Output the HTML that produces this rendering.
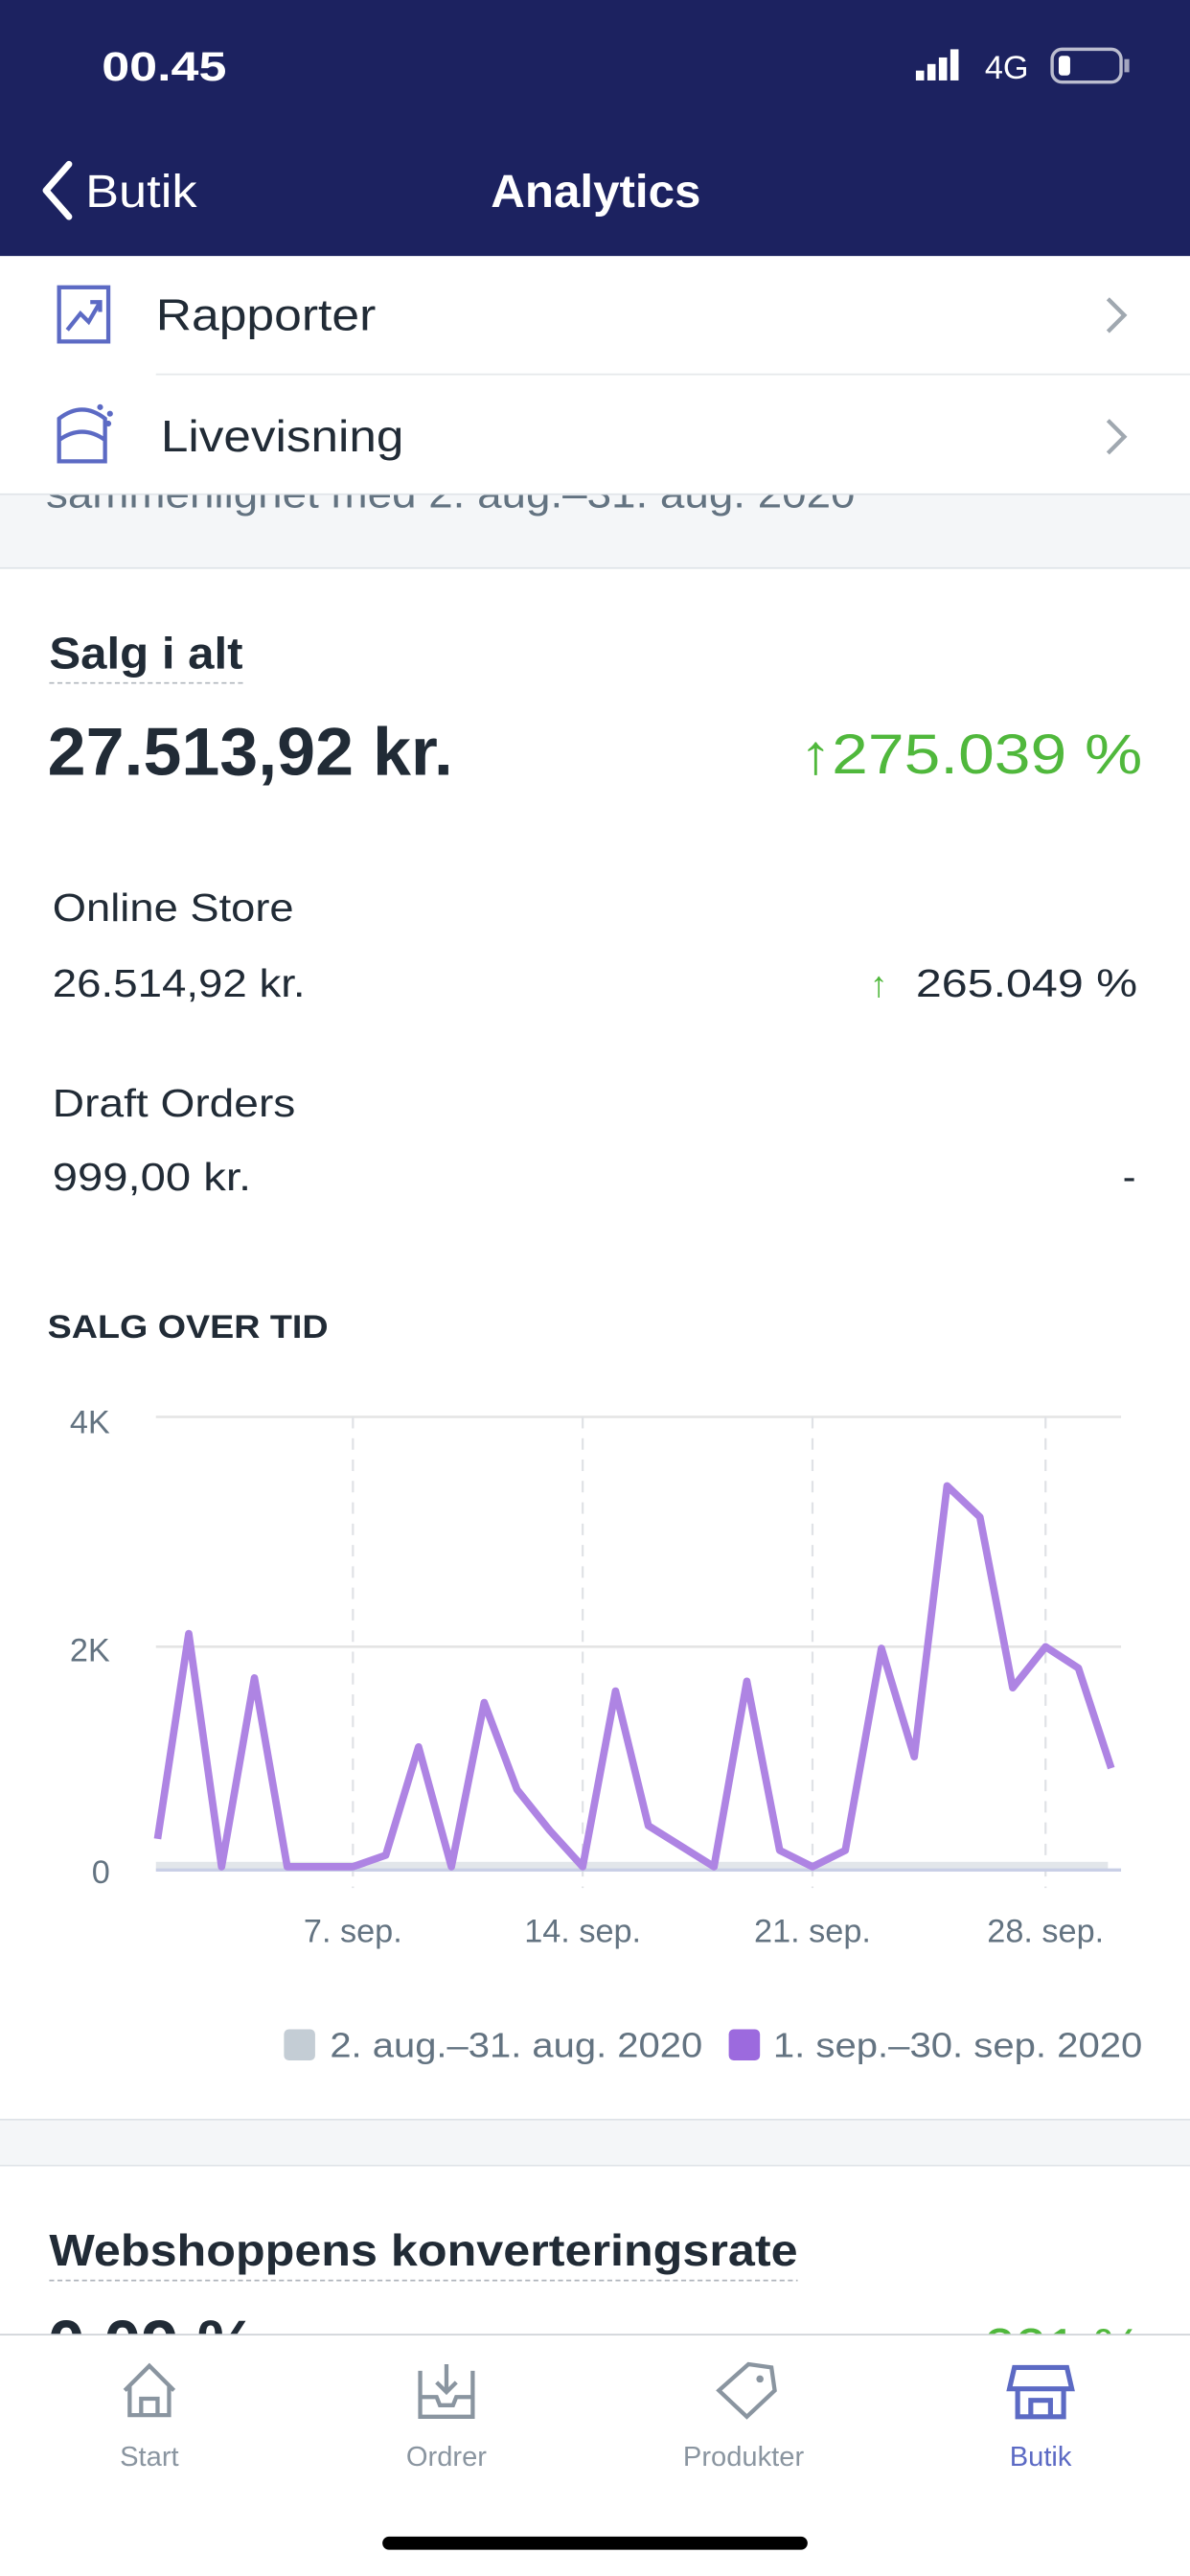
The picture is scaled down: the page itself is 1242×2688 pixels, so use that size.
<!DOCTYPE html>
<html><head><meta charset="utf-8"><style>
html,body{margin:0;padding:0;background:#fff;}
svg{display:block;font-family:"Liberation Sans",sans-serif;}
</style></head><body>
<svg width="1242" height="2688" viewBox="0 0 725 1569" preserveAspectRatio="none" xmlns="http://www.w3.org/2000/svg">
<rect x="0" y="0" width="725" height="1569" fill="#fff"/>
<rect x="0" y="0" width="725" height="156" fill="#1c2260"/>
<text x="62" y="49" fill="#fff" font-size="25" font-weight="bold" textLength="76" lengthAdjust="spacingAndGlyphs">00.45</text>
<rect x="558" y="43" width="5" height="6" fill="#fff"/><rect x="565" y="39" width="5" height="10" fill="#fff"/><rect x="572" y="35" width="5" height="14" fill="#fff"/><rect x="579" y="30" width="5" height="19" fill="#fff"/>
<text x="600" y="48" fill="#fff" font-size="20">4G</text>
<rect x="641" y="30" width="42" height="20" rx="6" fill="none" stroke="#fff" stroke-opacity="0.7" stroke-width="2"/>
<rect x="645" y="34" width="7" height="12" rx="2" fill="#fff"/>
<rect x="685" y="36" width="3" height="8" fill="#fff" fill-opacity="0.6"/>
<path d="M42 100 L28 116 L42 132" fill="none" stroke="#fff" stroke-width="4" stroke-linecap="round" stroke-linejoin="round"/>
<text x="52" y="126" fill="#fff" font-size="28" textLength="68" lengthAdjust="spacingAndGlyphs">Butik</text>
<text x="299" y="126" fill="#fff" font-size="28" font-weight="bold" textLength="128" lengthAdjust="spacingAndGlyphs">Analytics</text>
<rect x="0" y="301" width="725" height="45" fill="#f4f6f8"/>
<text x="28" y="309" fill="#637381" font-size="25" textLength="493" lengthAdjust="spacingAndGlyphs">sammenlignet med 2. aug.–31. aug. 2020</text>
<rect x="0" y="156" width="725" height="145" fill="#fff"/>
<text x="95" y="201" fill="#212b36" font-size="27" textLength="134" lengthAdjust="spacingAndGlyphs">Rapporter</text>
<text x="98" y="275" fill="#212b36" font-size="27" textLength="148" lengthAdjust="spacingAndGlyphs">Livevisning</text>
<rect x="36" y="175" width="30" height="33" fill="none" stroke="#5c6ac4" stroke-width="2.5"/>
<path d="M41 201 L49 191 L54 196 L61 184 M55 184 L61 184 L61 190" fill="none" stroke="#5c6ac4" stroke-width="2.5"/>
<path d="M36 255 Q50 244 64 255 L64 281 L36 281 Z M36 268 Q50 258 64 268" fill="none" stroke="#5c6ac4" stroke-width="2.5"/>
<circle cx="61" cy="248" r="1.8" fill="#5c6ac4"/><circle cx="67" cy="252" r="1.8" fill="#5c6ac4"/><circle cx="66" cy="258" r="1.8" fill="#5c6ac4"/>
<path d="M675 182 L685 192 L675 202 M675 256 L685 266 L675 276" fill="none" stroke="#a0a8b0" stroke-width="2.5"/>
<line x1="95" y1="228" x2="725" y2="228" stroke="#e6e8eb"/>
<line x1="0" y1="301" x2="725" y2="301" stroke="#dfe3e8"/>
<line x1="0" y1="346" x2="725" y2="346" stroke="#dfe3e8"/>
<text x="30" y="407" fill="#212b36" font-size="27" font-weight="bold" textLength="118" lengthAdjust="spacingAndGlyphs">Salg i alt</text>
<line x1="30" y1="416" x2="148" y2="416" stroke="#b0b6bd" stroke-dasharray="3,2"/>
<text x="29" y="472" fill="#212b36" font-size="41" font-weight="bold" textLength="247" lengthAdjust="spacingAndGlyphs">27.513,92 kr.</text>
<text x="487" y="471" fill="#50b83c" font-size="34" textLength="209" lengthAdjust="spacingAndGlyphs">↑275.039 %</text>
<text x="32" y="561" fill="#212b36" font-size="24" textLength="147" lengthAdjust="spacingAndGlyphs">Online Store</text>
<text x="32" y="607" fill="#212b36" font-size="24" textLength="154" lengthAdjust="spacingAndGlyphs">26.514,92 kr.</text>
<text x="530" y="607" fill="#50b83c" font-size="22">↑</text>
<text x="558" y="607" fill="#212b36" font-size="24" textLength="135" lengthAdjust="spacingAndGlyphs">265.049 %</text>
<text x="32" y="680" fill="#212b36" font-size="24" textLength="148" lengthAdjust="spacingAndGlyphs">Draft Orders</text>
<text x="32" y="725" fill="#212b36" font-size="24" textLength="121" lengthAdjust="spacingAndGlyphs">999,00 kr.</text>
<text x="692" y="725" fill="#212b36" font-size="24" text-anchor="end">-</text>
<text x="29" y="815" fill="#212b36" font-size="20" font-weight="bold" textLength="171" lengthAdjust="spacingAndGlyphs">SALG OVER TID</text>
<g stroke="#e4e4e4" stroke-width="1.5"><line x1="95" y1="863" x2="683" y2="863"/><line x1="95" y1="1003" x2="683" y2="1003"/></g>
<g stroke="#e0e2e6" stroke-width="1.3" stroke-dasharray="7,6"><line x1="215" y1="863" x2="215" y2="1150"/><line x1="355" y1="863" x2="355" y2="1150"/><line x1="495" y1="863" x2="495" y2="1150"/><line x1="637" y1="863" x2="637" y2="1150"/></g>
<rect x="95" y="1134" width="580" height="5" fill="#e2e6ea"/>
<line x1="95" y1="1139" x2="683" y2="1139" stroke="#c9cfe6" stroke-width="2"/>
<g fill="#637381" font-size="20"><text x="67" y="873" text-anchor="end">4K</text><text x="67" y="1012" text-anchor="end">2K</text><text x="67" y="1147" text-anchor="end">0</text>
<text x="215" y="1183" text-anchor="middle">7. sep.</text><text x="355" y="1183" text-anchor="middle">14. sep.</text><text x="495" y="1183" text-anchor="middle">21. sep.</text><text x="637" y="1183" text-anchor="middle">28. sep.</text></g>
<polyline fill="none" stroke="#ae84e3" stroke-width="4.5" stroke-linejoin="round" points="96,1120 115,995 135,1137 155,1022 175,1137 215,1137 235,1130 255,1064 275,1137 295,1037 315,1090 335,1115 355,1137 375,1030 395,1112 435,1137 455,1024 475,1127 495,1137 515,1127 537,1004 557,1070 577,905 597,924 617,1028 637,1003 657,1016 677,1077"/>
<rect x="173" y="1236" width="19" height="19" rx="3" fill="#c4cdd5"/>
<text x="201" y="1253" fill="#637381" font-size="21" textLength="227" lengthAdjust="spacingAndGlyphs">2. aug.–31. aug. 2020</text>
<rect x="444" y="1236" width="19" height="19" rx="3" fill="#9c6ade"/>
<text x="471" y="1253" fill="#637381" font-size="21" textLength="225" lengthAdjust="spacingAndGlyphs">1. sep.–30. sep. 2020</text>
<rect x="0" y="1291" width="725" height="28" fill="#f4f6f8"/>
<line x1="0" y1="1291" x2="725" y2="1291" stroke="#dfe3e8"/>
<line x1="0" y1="1319" x2="725" y2="1319" stroke="#dfe3e8"/>
<text x="30" y="1380" fill="#212b36" font-size="27" font-weight="bold" textLength="456" lengthAdjust="spacingAndGlyphs">Webshoppens konverteringsrate</text>
<line x1="30" y1="1389" x2="486" y2="1389" stroke="#b0b6bd" stroke-dasharray="3,2"/>
<text x="29" y="1442" fill="#212b36" font-size="41" font-weight="bold">0,09 %</text>
<text x="696" y="1442" fill="#50b83c" font-size="34" text-anchor="end">↑221 %</text>
<rect x="0" y="1422" width="725" height="147" fill="#fff"/>
<line x1="0" y1="1422" x2="725" y2="1422" stroke="#d0d4d8"/>
<path d="M76 1456 L91 1441 L106 1456 M79 1453 L79 1471 L103 1471 L103 1453 M86 1471 L86 1461 L96 1461 L96 1471" fill="none" stroke="#8a95a0" stroke-width="2.5"/>
<text x="91" y="1502" fill="#8a95a0" font-size="17" text-anchor="middle">Start</text>
<path d="M256 1444 L256 1472 L288 1472 L288 1444 M256 1460 L266 1460 L268 1465 L276 1465 L278 1460 L288 1460 M272 1440 L272 1456 M266 1451 L272 1457 L278 1451" fill="none" stroke="#8a95a0" stroke-width="2.5"/>
<text x="272" y="1502" fill="#8a95a0" font-size="17" text-anchor="middle">Ordrer</text>
<path d="M438 1456 L456 1440 L470 1442 L472 1456 L455 1472 Z" fill="none" stroke="#8a95a0" stroke-width="2.5"/>
<circle cx="463" cy="1449" r="2.2" fill="#8a95a0"/>
<text x="453" y="1502" fill="#8a95a0" font-size="17" text-anchor="middle">Produkter</text>
<path d="M618 1442 L650 1442 L653 1455 L615 1455 Z M620 1455 L620 1472 L648 1472 L648 1455 M628 1472 L628 1462 L640 1462 L640 1472" fill="none" stroke="#5c6ac4" stroke-width="3"/>
<text x="634" y="1502" fill="#5c6ac4" font-size="17" text-anchor="middle">Butik</text>
<rect x="233" y="1545" width="259" height="8" rx="4" fill="#000"/>
</svg>
</body></html>
